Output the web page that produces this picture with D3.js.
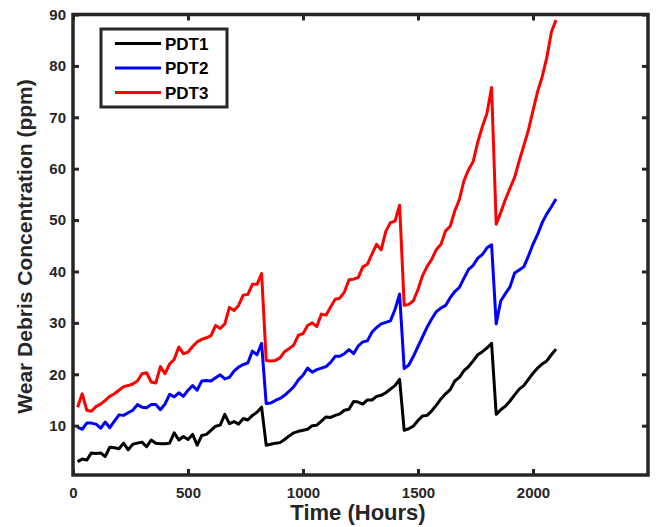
<!DOCTYPE html>
<html><head><meta charset="utf-8">
<script src="https://cdn.jsdelivr.net/npm/d3@7/dist/d3.min.js"></script>
<style>
html,body{margin:0;padding:0;background:#fff;}
svg{display:block;}
text{font-family:"Liberation Sans",Arial,Helvetica,sans-serif;font-weight:bold;fill:#262626;}
</style></head>
<body><svg id="chart" width="656" height="527"></svg>
<script>
const hours = [20,40,60,80,100,120,140,160,180,200,220,240,260,280,300,320,340,360,380,400,
420,440,460,480,500,520,540,560,580,600,620,640,660,680,700,720,740,760,780,800,
820,840,860,880,900,920,940,960,980,1000,1020,1040,1060,1080,1100,1120,1140,1160,1180,1200,
1220,1240,1260,1280,1300,1320,1340,1360,1380,1400,1420,1440,1460,1480,1500,1520,1540,1560,1580,1600,
1620,1640,1660,1680,1700,1720,1740,1760,1780,1800,1820,1840,1860,1880,1900,1920,1940,1960,1980,2000,
2020,2040,2060,2080,2100];

const pdt1 = [3.0,3.5,3.3,4.7,4.6,4.7,4.0,5.8,5.7,5.5,6.6,5.3,6.4,6.6,6.8,5.9,7.2,6.6,6.5,6.5,
6.6,8.6,7.2,7.9,7.3,8.3,6.2,8.1,8.3,9.1,9.9,10.1,12.2,10.4,10.8,10.3,11.4,11.1,12.0,12.6,13.6,
6.2,6.4,6.6,6.7,7.3,8.0,8.6,8.9,9.1,9.3,10.0,10.1,10.9,11.7,11.6,12.0,12.3,13.0,13.2,14.7,
14.6,14.2,15.0,15.0,15.7,15.9,16.4,17.1,17.8,19.0,
9.1,9.4,9.9,11.0,11.9,12.0,12.9,14.0,15.2,16.2,17.0,18.7,19.4,20.7,21.5,22.6,23.8,24.4,25.1,26.0,
12.2,13.1,13.8,14.8,16.0,17.1,17.8,19.0,20.2,21.2,22.0,22.6,23.8,24.9];

const pdt2 = [9.7,9.3,10.5,10.5,10.3,9.5,10.7,9.6,10.9,12.1,12.0,12.5,13.0,14.1,13.6,13.5,14.1,14.1,13.1,14.2,
16.1,15.6,16.4,15.7,16.9,17.8,16.9,18.7,18.8,18.7,19.3,19.9,19.1,19.4,20.6,21.4,21.9,22.2,24.5,23.8,26.0,
14.3,14.4,14.9,15.3,15.9,16.7,17.6,18.9,19.8,21.2,20.4,20.9,21.2,21.5,22.3,23.5,23.5,24.0,24.8,24.0,
25.5,26.3,26.5,28.2,29.1,29.8,30.1,30.4,32.6,35.6,
21.1,21.8,23.5,25.4,27.3,29.2,30.8,32.2,32.9,33.4,34.9,36.1,36.9,38.7,40.4,41.2,42.6,43.3,44.6,45.2,
29.8,34.3,35.7,37.0,39.7,40.3,40.9,43.0,45.3,47.2,49.5,51.2,52.6,54.1];

const pdt3 = [13.6,16.2,13.0,12.8,13.7,14.2,14.9,15.7,16.2,16.9,17.6,17.8,18.1,18.7,20.1,20.3,18.5,18.3,21.5,20.1,
22.0,22.9,25.3,24.0,24.3,25.4,26.3,26.8,27.1,27.5,29.5,28.9,29.8,33.0,32.4,33.4,35.4,35.5,37.5,37.5,39.6,
22.7,22.6,22.7,23.2,24.4,25.0,25.7,27.6,27.9,29.5,30.0,29.3,31.7,31.5,33.1,34.6,34.8,36.0,38.4,38.5,
38.8,40.9,41.4,43.4,45.3,44.2,47.8,49.5,49.8,52.9,
33.4,33.6,34.3,36.5,39.2,41.0,42.4,44.3,45.3,47.9,48.8,51.8,54.0,57.7,59.8,61.4,65.2,68.2,70.8,75.8,
49.2,51.5,54.0,56.2,58.3,61.5,64.5,67.5,71.3,75.0,77.9,81.6,86.6,88.9];

const seriesNames = ["PDT1","PDT2","PDT3"];
const seriesColors = ["#000000","#0000ff","#ff0000"];
const xTicks = [0,500,1000,1500,2000];
const yTicks = [10,20,30,40,50,60,70,80,90];
const xTitle = "Time (Hours)";
const yTitle = "Wear Debris Concentration (ppm)";

const svg = d3.select("#chart");
const L = 73, R = 648, T = 14.5, B = 475;
const x = d3.scaleLinear().domain([0,2500]).range([L,R]);
const y = d3.scaleLinear().domain([0.4,90]).range([B,T]);
const axisColor = "#262626";

const line = d3.line().x((d,i)=>x(hours[i])).y(d=>y(d));
const data = [pdt1,pdt2,pdt3];
svg.append("clipPath").attr("id","clip").append("rect")
  .attr("x",L).attr("y",T).attr("width",R-L).attr("height",B-T);
data.forEach((s,k)=>{
  svg.append("path").datum(s).attr("d",line)
    .attr("fill","none").attr("stroke",seriesColors[k])
    .attr("stroke-width",3).attr("stroke-linejoin","round")
    .attr("clip-path","url(#clip)");
});

// axes
const tickLen = 6;
const fmt = d3.format("d");
const gx = svg.append("g").attr("transform",`translate(0,${B})`)
  .call(d3.axisBottom(x).tickValues(xTicks).tickFormat(fmt).tickSizeInner(-tickLen).tickSizeOuter(0).tickPadding(12));
const gxt = svg.append("g").attr("transform",`translate(0,${T})`)
  .call(d3.axisTop(x).tickValues(xTicks).tickSizeInner(-tickLen).tickSizeOuter(0).tickFormat(""));
const gy = svg.append("g").attr("transform",`translate(${L},0)`)
  .call(d3.axisLeft(y).tickValues(yTicks).tickFormat(fmt).tickSizeInner(-tickLen).tickSizeOuter(0).tickPadding(7));
const gyr = svg.append("g").attr("transform",`translate(${R},0)`)
  .call(d3.axisRight(y).tickValues(yTicks).tickSizeInner(-tickLen).tickSizeOuter(0).tickFormat(""));
[gx,gxt,gy,gyr].forEach(g=>{
  g.select(".domain").remove();
  g.selectAll(".tick line").attr("stroke",axisColor).attr("stroke-width",3);
  g.selectAll("text").attr("fill",axisColor).style("font-size","15px").style("font-weight","bold")
    .style("font-family",'"Liberation Sans",Arial,sans-serif');
});
svg.append("rect").attr("x",L).attr("y",T).attr("width",R-L).attr("height",B-T)
  .attr("fill","none").attr("stroke",axisColor).attr("stroke-width",3.5);

// titles
svg.append("text").attr("x",358).attr("y",520).attr("text-anchor","middle")
  .style("font-size","22px").text(xTitle);
svg.append("text").attr("transform","translate(32,246.5) rotate(-90)").attr("text-anchor","middle")
  .style("font-size","21px").text(yTitle);

// legend
const lg = svg.append("g");
lg.append("rect").attr("x",101).attr("y",29).attr("width",126).attr("height",78)
  .attr("fill","#fff").attr("stroke",axisColor).attr("stroke-width",3);
seriesNames.forEach((n,k)=>{
  const cy = 43.5 + k*24.5;
  lg.append("line").attr("x1",115).attr("x2",161).attr("y1",cy).attr("y2",cy)
    .attr("stroke",seriesColors[k]).attr("stroke-width",3);
  lg.append("text").attr("x",165).attr("y",cy+6).style("font-size","17px").style("fill","#000").text(n);
});
</script></body></html>
